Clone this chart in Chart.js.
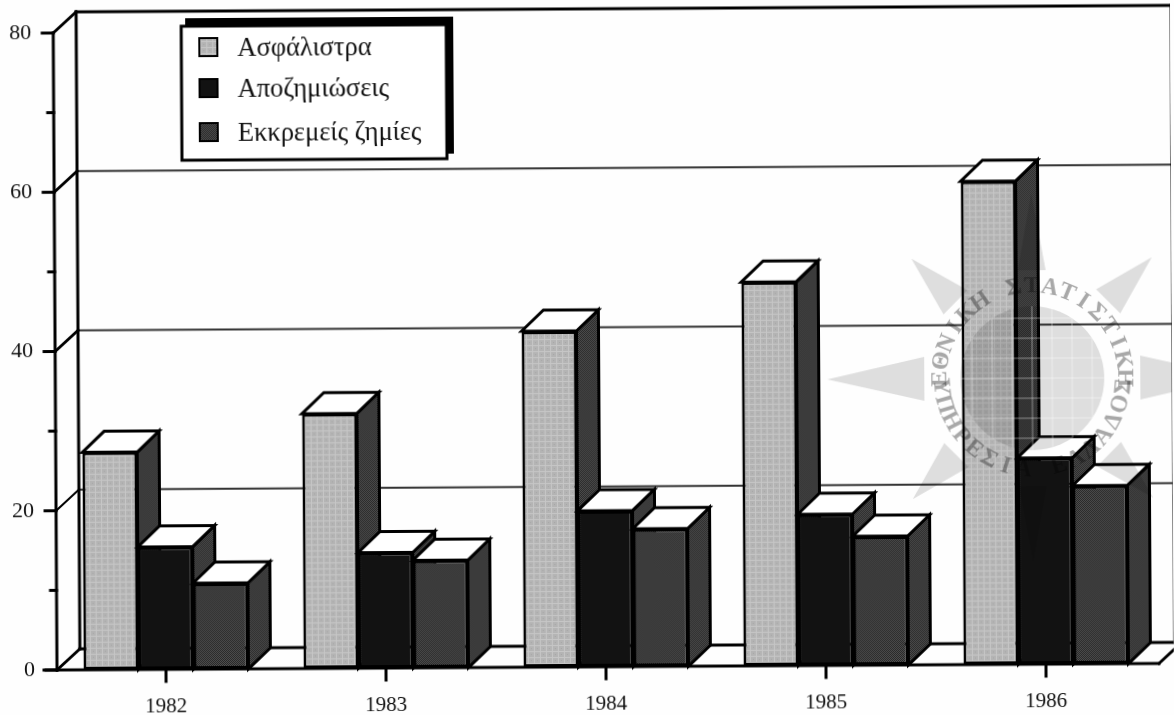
<!DOCTYPE html>
<html lang="el">
<head>
<meta charset="utf-8">
<title>Ασφάλιστρα, αποζημιώσεις, εκκρεμείς ζημίες</title>
<script src="https://cdn.jsdelivr.net/npm/chart.js@4"></script>
<style>
    html, body { margin: 0; padding: 0; background: #fefefe; overflow: hidden; }
    /* the scanned page sits slightly crooked */
    #chart { display: block; transform-origin: 57px 670px; transform: rotate(-0.34deg); }
</style>
</head>
<body>
<canvas id="chart" width="1174" height="715"></canvas>
<script>
const years = ['1982', '1983', '1984', '1985', '1986'];
const premiums = [27.3, 32, 42.2, 48.2, 60.7];
const claims = [15.4, 14.5, 19.6, 19, 25.9];
const pending = [10.8, 13.5, 17.3, 16.2, 22.4];
const seriesNames = ['Ασφάλιστρα', 'Αποζημιώσεις', 'Εκκρεμείς ζημίες'];

const SERIF = '"Liberation Serif", serif';
const AXIS_INSET = 1;  // front axis sits just inside the first category
const DX = 23;   // depth of the back wall
const DY = -21;
const BAR_DX = 22;  // depth of a bar
const BAR_DY = -21;

// Small tiles for the printed screen tones
function makeTile(size, paint) {
    const c = document.createElement('canvas');
    c.width = c.height = size;
    paint(c.getContext('2d'));
    return c.getContext('2d').createPattern(c, 'repeat');
}

const lightTone = makeTile(6, g => {
    g.fillStyle = '#b4b4b4';
    g.fillRect(0, 0, 6, 6);
    g.fillStyle = '#c6c6c6';
    g.fillRect(0, 0, 6, 1);
    g.fillRect(0, 0, 1, 6);
    g.fillStyle = '#a6a6a6';
    g.fillRect(3, 3, 1, 1);
});
const darkTone = makeTile(2, g => {
    g.fillStyle = '#262626';
    g.fillRect(0, 0, 2, 2);
    g.fillStyle = '#505050';
    g.fillRect(0, 0, 1, 1);
    g.fillRect(1, 1, 1, 1);
});
const blackTone = '#121212';

function line(ctx, x1, y1, x2, y2) {
    ctx.beginPath();
    ctx.moveTo(x1, y1);
    ctx.lineTo(x2, y2);
    ctx.stroke();
}

function drawBarDepth(ctx, meta) {
    ctx.save();
    ctx.strokeStyle = '#000';
    ctx.lineWidth = 3;
    meta.data.forEach(bar => {
        const p = bar.getProps(['x', 'y', 'base', 'width'], true);
        const left = p.x - p.width / 2;
        const right = p.x + p.width / 2;

        ctx.fillStyle = darkTone;
        ctx.beginPath();
        ctx.moveTo(right, p.y);
        ctx.lineTo(right + BAR_DX, p.y + BAR_DY);
        ctx.lineTo(right + BAR_DX, p.base + BAR_DY);
        ctx.lineTo(right, p.base);
        ctx.closePath();
        ctx.fill();
        ctx.stroke();

        ctx.fillStyle = '#fff';
        ctx.beginPath();
        ctx.moveTo(left, p.y);
        ctx.lineTo(left + BAR_DX, p.y + BAR_DY);
        ctx.lineTo(right + BAR_DX, p.y + BAR_DY);
        ctx.lineTo(right, p.y);
        ctx.closePath();
        ctx.fill();
        ctx.stroke();
    });
    ctx.restore();
}

// Back wall, floor, ticks, then the bars left to right so each one covers its neighbour's side
const frame3d = {
    id: 'frame3d',
    beforeDatasetsDraw(chart) {
        const { ctx, chartArea: a, scales: { x, y } } = chart;
        const front = a.left + AXIS_INSET;
        const wallRight = a.right + DX - 4;
        ctx.save();
        ctx.strokeStyle = '#000';
        ctx.lineCap = 'square';

        // gridlines on the back wall
        y.ticks.forEach(t => {
            if (t.value === 0 || t.value === 80 || t.value % 20) return;
            const py = y.getPixelForValue(t.value);
            ctx.lineWidth = 2;
            ctx.strokeStyle = '#333';
            ctx.setLineDash([2, 1]);
            line(ctx, front + DX, py + DY, wallRight, py + DY);
            ctx.setLineDash([]);
            ctx.strokeStyle = '#000';
            ctx.lineWidth = t.value === 20 ? 2 : 3;
            line(ctx, front, py, front + DX, py + DY);
        });

        ctx.lineWidth = 3;
        line(ctx, front, a.top, front + DX, a.top + DY);
        line(ctx, front + DX, a.top + DY, wallRight, a.top + DY);
        line(ctx, front + DX, a.top + DY, front + DX, a.bottom + DY);
        line(ctx, wallRight, a.top + DY, wallRight, a.bottom + DY);
        line(ctx, front, a.top, front, a.bottom);

        // floor
        line(ctx, front, a.bottom, front + DX, a.bottom + DY);
        line(ctx, front + DX, a.bottom + DY, a.right + DX, a.bottom + DY);
        line(ctx, a.right + 3, a.bottom, a.right + 3 + DX, a.bottom + DY);
        line(ctx, front - 13, a.bottom, a.right + 3, a.bottom);

        // ticks, long at labelled values
        y.ticks.forEach(t => {
            const py = y.getPixelForValue(t.value);
            line(ctx, front - (t.value % 20 ? 6 : 11), py, front, py);
        });
        x.ticks.forEach((t, i) => {
            const px = x.getPixelForTick(i);
            line(ctx, px, a.bottom, px, a.bottom + 12);
        });
        ctx.restore();

        chart.data.datasets.forEach((ds, i) => {
            const meta = chart.getDatasetMeta(i);
            drawBarDepth(ctx, meta);
            meta.controller.draw();
        });
        return false;
    }
};

// Boxed legend with a hard black shadow
const boxLegend = {
    id: 'boxLegend',
    afterDraw(chart) {
        const { ctx } = chart;
        const rows = [
            { top: 39, text: 57 },
            { top: 80, text: 98 },
            { top: 124, text: 142 }
        ];
        ctx.save();
        ctx.fillStyle = '#000';
        ctx.fillRect(189, 19, 268, 137);
        ctx.fillStyle = '#fff';
        ctx.fillRect(185, 27, 265, 134);
        ctx.strokeStyle = '#000';
        ctx.lineWidth = 3;
        ctx.strokeRect(185, 27, 265, 134);

        ctx.font = '26.5px ' + SERIF;
        ctx.textBaseline = 'alphabetic';
        ctx.textAlign = 'left';
        chart.data.datasets.forEach((ds, i) => {
            ctx.fillStyle = ds.backgroundColor;
            ctx.fillRect(203, rows[i].top, 18, 18);
            ctx.lineWidth = 2;
            ctx.strokeRect(203, rows[i].top, 18, 18);
            ctx.fillStyle = '#111';
            ctx.fillText(ds.label, 241, rows[i].text);
        });
        ctx.restore();
    }
};

// Write a string round the stamp, one letter at a time
function ringText(ctx, text, startDeg, stepDeg, offset) {
    [...text].forEach((ch, i) => {
        ctx.save();
        ctx.rotate((startDeg + i * stepDeg) * Math.PI / 180);
        ctx.fillText(ch, 0, offset);
        ctx.restore();
    });
}

// Faint round library stamp printed across the right of the chart
const stamp = {
    id: 'stamp',
    afterDraw(chart) {
        const { ctx } = chart;
        ctx.save();
        ctx.globalCompositeOperation = 'multiply';
        ctx.translate(1034, 384);
        ctx.fillStyle = '#dedede';

        // compass points
        [[0, 185, 14], [45, 170, 17], [90, 205, 22], [135, 170, 17], [180, 185, 14], [225, 170, 17], [270, 205, 22], [315, 170, 17]].forEach(([deg, len, half]) => {
            ctx.save();
            ctx.rotate(deg * Math.PI / 180);
            ctx.beginPath();
            ctx.moveTo(0, -len);
            ctx.lineTo(-half, -108);
            ctx.lineTo(half, -108);
            ctx.closePath();
            ctx.fill();
            ctx.restore();
        });

        // globe
        ctx.beginPath();
        ctx.arc(0, 0, 72, 0, Math.PI * 2);
        ctx.fill();
        ctx.strokeStyle = '#fff';
        ctx.globalCompositeOperation = 'source-over';
        ctx.globalAlpha = 0.3;
        ctx.lineWidth = 1.5;
        for (let d = -60; d <= 60; d += 20) {
            const h = Math.sqrt(72 * 72 - d * d);
            line(ctx, d, -h, d, h);
            line(ctx, -h, d, h, d);
        }
        ctx.globalAlpha = 1;
        ctx.globalCompositeOperation = 'multiply';

        // ring text: clockwise over the top, upright along the bottom
        ctx.font = 'bold 24px ' + SERIF;
        ctx.fillStyle = '#a8a8a8';
        ctx.textAlign = 'center';
        ctx.textBaseline = 'middle';
        ringText(ctx, 'ΕΘΝΙΚΗ ΣΤΑΤΙΣΤΙΚΗ', -90, 11.25, -92);
        ringText(ctx, 'ΥΠΗΡΕΣΙΑ ΕΛΛΑΔΟΣ', 85, -11.3, 92);
        ctx.restore();
    }
};

function makeDataset(label, data, fill) {
    return {
        label: label,
        data: data,
        backgroundColor: fill,
        borderColor: '#000',
        borderWidth: 3,
        borderSkipped: false,
        categoryPercentage: 0.75,
        barPercentage: 1
    };
}

new Chart(document.getElementById('chart'), {
    type: 'bar',
    data: {
        labels: years,
        datasets: [
            makeDataset(seriesNames[0], premiums, lightTone),
            makeDataset(seriesNames[1], claims, blackTone),
            makeDataset(seriesNames[2], pending, darkTone)
        ]
    },
    plugins: [frame3d, boxLegend, stamp],
    options: {
        responsive: false,
        animation: false,
        layout: { padding: { top: 33, right: 18, left: 0, bottom: 0 } },
        plugins: {
            legend: { display: false },
            title: { display: false },
            tooltip: { enabled: false }
        },
        scales: {
            x: {
                grid: { display: false },
                border: { display: false },
                afterFit(scale) { scale.height = 45; },
                ticks: {
                    color: '#111',
                    padding: 17,
                    maxRotation: 0,
                    font: { family: SERIF, size: 21 }
                }
            },
            y: {
                min: 0,
                max: 80,
                grid: { display: false },
                border: { display: false },
                afterFit(scale) { scale.width = 56; },
                ticks: {
                    stepSize: 10,
                    color: '#111',
                    padding: 13,
                    font: { family: SERIF, size: 22 },
                    callback: v => (v % 20 === 0 ? v : '')
                }
            }
        }
    }
});
</script>
</body>
</html>
